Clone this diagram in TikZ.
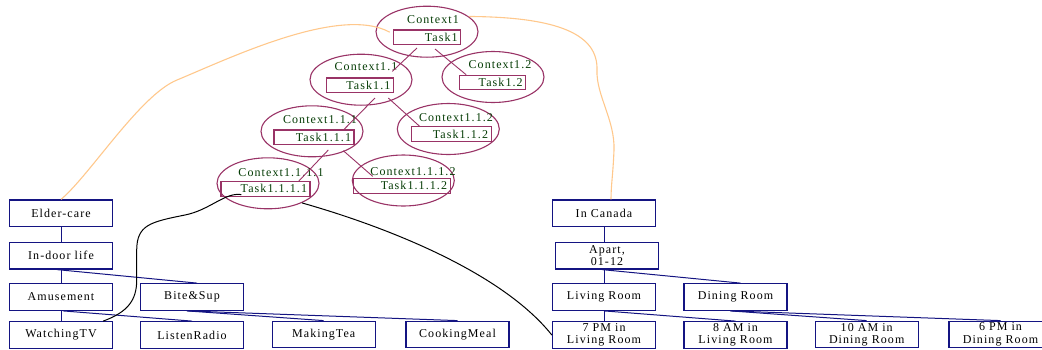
\documentclass[tikz,border=0pt]{standalone}
\usepackage{fontspec}
\setmainfont{Liberation Serif}[LetterSpace=9]
\usetikzlibrary{shapes.geometric,calc}
\definecolor{navyb}{RGB}{20,20,130}
\definecolor{ctxpurple}{RGB}{153,51,102}
\definecolor{ctxgreen}{RGB}{5,60,5}
\definecolor{peach}{RGB}{255,200,140}
\begin{document}
\begin{tikzpicture}[x=1pt,y=-1pt,
  bbox/.style={draw=navyb, line width=1.3pt, minimum width=103pt, minimum height=26.5pt,
    inner sep=0pt, font=\fontsize{12}{12.4}\selectfont, align=center},
  link/.style={draw=navyb, line width=1pt},
  ctx/.style={draw=ctxpurple, line width=1.1pt, ellipse, inner sep=0pt,
    minimum width=102pt, minimum height=51pt},
  ctxlabel/.style={text=ctxgreen, font=\fontsize{12}{12.4}\selectfont, inner sep=0pt},
  taskbox/.style={draw=ctxpurple, line width=1.1pt, text=ctxgreen,
    font=\fontsize{12}{12.4}\selectfont, minimum height=14.5pt, inner ysep=0pt,
    inner xsep=3pt, align=right},
  tree/.style={draw=ctxpurple, line width=0.9pt},
  peachline/.style={draw=peach, line width=1.1pt},
  blackline/.style={draw=black, line width=1pt},
]
\useasboundingbox (0,0) rectangle (1042,349);

% ---------- left hierarchy ----------
\node[bbox] (ec)  at (61,213.3) {Elder-care};
\node[bbox] (idl) at (61,255.7) {In-door life};
\node[bbox] (am)  at (61,297)   {Amusement};
\node[bbox] (bs)  at (192,297)  {Bite\&Sup};
\node[bbox] (wtv) at (61,335)   {WatchingTV};
\node[bbox] (lr)  at (192,335)  {ListenRadio};
\node[bbox] (mt)  at (323.7,334.5) {MakingTea};
\node[bbox] (cm)  at (457.5,334.5) {CookingMeal};

\draw[link] (ec.south) -- (idl.north);
\draw[link] (idl.south) -- (am.north);
\draw[link] ($(idl.south)+(-4,0)$) -- ($(bs.north)+(5,0)$);
\draw[link] (am.south) -- (wtv.north);
\draw[link] ($(am.south)+(2,0)$) -- (lr.north);
\draw[link] ($(bs.south)+(-5,0)$) -- (mt.north);
\draw[link] ($(bs.south)+(-5,0)$) -- (cm.north);

% ---------- right hierarchy ----------
\node[bbox] (ic)  at (604,213.3) {In Canada};
\node[bbox, font=\fontsize{12}{9.5}\selectfont] (ap) at (607,255.7) {Apart,\\01-12};
\node[bbox] (lvr) at (604,297)   {Living Room};
\node[bbox] (dnr) at (735.5,297) {Dining Room};
\node[bbox] (p7)  at (604,335)   {7 PM in\\Living Room};
\node[bbox] (a8)  at (735.5,335) {8 AM in\\Living Room};
\node[bbox] (a10) at (866.7,334.5) {10 AM in\\Dining Room};
\node[bbox] (p6)  at (1000.5,334.5) {6 PM in\\Dining Room};

\draw[link] (ic.south) -- ($(ap.north)+(-3,0)$);
\draw[link] ($(ap.south)+(-3,0)$) -- (lvr.north);
\draw[link] ($(ap.south)+(-5,0)$) -- ($(dnr.north)+(5,0)$);
\draw[link] (lvr.south) -- (p7.north);
\draw[link] (lvr.south) -- (a8.north);
\draw[link] ($(dnr.south)+(-5,0)$) -- (a10.north);
\draw[link] ($(dnr.south)+(-5,0)$) -- (p6.north);

% ---------- context tree ----------
\node[ctx] (c1)    at (427,31.7)  {};
\node[ctx] (c11)   at (361,79.7)  {};
\node[ctx] (c12)   at (493,77)    {};
\node[ctx] (c111)  at (312,131.3) {};
\node[ctx] (c112)  at (448.3,129) {};
\node[ctx] (c1111) at (268,183.3) {};
\node[ctx] (c1112) at (403.3,180.5) {};

\node[ctxlabel] (l1)    at (433,20)    {Context1};
\node[ctxlabel] (l11)   at (366,66.7)  {Context1.1};
\node[ctxlabel] (l12)   at (500,65)    {Context1.2};
\node[ctxlabel] (l111)  at (320,120)   {Context1.1.1};
\node[ctxlabel] (l112)  at (456,117.3) {Context1.1.2};
\node[ctxlabel] (l1111) at (281,172.3) {Context1.1.1.1};
\node[ctxlabel] (l1112) at (413,171.7) {Context1.1.1.2};

\node[taskbox, text width=61.4pt] (t1)    at (427,37.2)   {Task1};
\node[taskbox, text width=61.3pt] (t11)   at (359.7,85.2) {Task1.1};
\node[taskbox, text width=60.4pt] (t12)   at (492.5,82.5) {Task1.2};
\node[taskbox, text width=74pt]   (t111)  at (314,137.2)  {Task1.1.1};
\node[taskbox, text width=73.7pt] (t112)  at (451.2,134)  {Task1.1.2};
\node[taskbox, text width=83pt]   (t1111) at (265.5,188.8){Task1.1.1.1};
\node[taskbox, text width=90.7pt] (t1112) at (401.7,185.8){Task1.1.1.2};

\draw[tree] ($(t1.south)+(-10,3)$) -- ($(t11.north east)+(-1.6,-6)$);
\draw[tree] ($(t1.south)+(8,4)$) -- ($(t12.north west)+(7.4,0)$);
\draw[tree] ($(t11.south)+(15.3,5)$) -- ($(t111.north)+(30,0)$);
\draw[tree] ($(t11.south)+(28.6,5)$) -- ($(t112.north west)+(8.7,0)$);
\draw[tree] ($(t111.south)+(14.3,5)$) -- ($(t1111.north east)+(-11.7,0)$);
\draw[tree] ($(t111.south)+(29.3,5.7)$) -- ($(t1112.north west)+(20,-1.6)$);

% ---------- peach links ----------
\draw[peachline] (ec.north) .. controls (90,175) and (140,95) .. (177,80)
  .. controls (230,58) and (340,5) .. ($(t1.west)+(-3,-5)$);
\draw[peachline] (c1.20) .. controls (560,17) and (598,35) .. (597,70)
  .. controls (596,95) and (615,120) .. (614,150)
  .. controls (613,175) and (611,185) .. ($(ic.north)+(7,0)$);

% ---------- black links ----------
\draw[blackline] ($(wtv.north east)+(-10,0)$) .. controls (128,312) and (136.7,300) .. (136.7,280)
  -- (136.7,250) .. controls (137,225) and (150,222) .. (185,215)
  .. controls (210,210) and (225,192) .. ($(t1111.south west)+(21,-2)$);
\draw[blackline] (c1111.-30) .. controls (380,225) and (500,270) .. (p7.west);
\end{tikzpicture}
\end{document}
